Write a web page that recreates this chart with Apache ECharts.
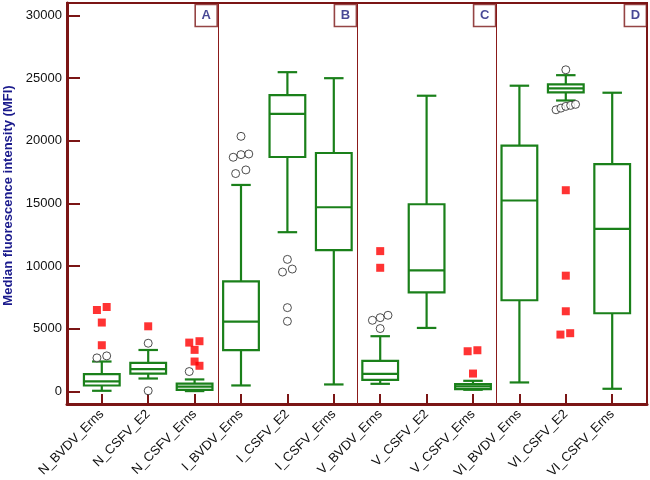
<!DOCTYPE html>
<html>
<head>
<meta charset="utf-8">
<script src="https://cdn.jsdelivr.net/npm/echarts@6/dist/echarts.min.js"></script>
<style>
html,body{margin:0;padding:0;background:#fff;}
#chart{width:650px;height:480px;}
</style>
</head>
<body>
<div id="chart"></div>
<script>
// ---- data ----
var categories = ['N_BVDV_Erns','N_CSFV_E2','N_CSFV_Erns','I_BVDV_Erns','I_CSFV_E2','I_CSFV_Erns','V_BVDV_Erns','V_CSFV_E2','V_CSFV_Erns','VI_BVDV_Erns','VI_CSFV_E2','VI_CSFV_Erns'];
var whiskerLow  = [55, 1035, 30, 480, 12710, 560, 610, 5070, 135, 720, 23220, 215];
var q1          = [478, 1420, 130, 3300, 18710, 11280, 930, 7910, 190, 7280, 23860, 6240];
var median      = [800, 1790, 380, 5570, 22150, 14700, 1410, 9660, 400, 15240, 24180, 12980];
var q3          = [1385, 2280, 620, 8790, 23650, 19030, 2440, 14940, 590, 19620, 24500, 18150];
var whiskerHigh = [2390, 3310, 960, 16480, 25480, 25000, 4410, 23600, 850, 24400, 25240, 23840];
// outliers: [categoryIndex, value, jitter]
var outlierCircles = [
  [0,2680,-1],[0,2840,1],
  [1,3850,0],[1,55,0],
  [2,1590,-1.1],
  [3,20360,0],[3,18690,-1.6],[3,18900,0],[3,18950,1.6],[3,17390,-1.1],[3,17680,1],
  [4,10540,0],[4,9530,-1],[4,9770,1],[4,6690,0],[4,5600,0],
  [6,5680,-1.6],[6,5890,0],[6,6080,1.6],[6,5020,0],
  [10,25670,0],[10,22480,-2],[10,22610,-1],[10,22750,0],[10,22830,1],[10,22910,2]
];
var outlierSquares = [
  [0,6500,-1],[0,6740,1],[0,5500,0],[0,3690,0],
  [1,5200,0],
  [2,3900,-1.1],[2,4010,1],[2,3320,0],[2,2390,0],[2,2050,1],
  [6,11200,0],[6,9870,0],
  [8,3210,-1.1],[8,3290,0.9],[8,1430,0],
  [10,16060,0],[10,9240,0],[10,6400,0],[10,4540,-1.1],[10,4650,0.9]
];
var yTicks = [0,5000,10000,15000,20000,25000,30000];
var panelLabels = ['A','B','C','D'];
var panelSeparators = [2.5, 5.5, 8.5];

// ---- build ----
var AXIS = '#7b1515';
var GREEN = '#1a801a';
var FONT = 'Liberation Sans, Arial, sans-serif';
var jitterStep = 0.105;
var xMin = -0.75, xMax = 11.75;
var idx = categories.map(function(_, i){ return i; });
var boxData = idx.map(function(i){ return [i, whiskerLow[i], q1[i], median[i], q3[i], whiskerHigh[i]]; });
function jit(a){ return a.map(function(d){ return [d[0] + d[2]*jitterStep, d[1]]; }); }
var panelEdges = panelSeparators.concat([xMax]);
var panelData = panelLabels.map(function(t, i){ return {value:[panelEdges[i] - 0.25, 30000], name:t}; });

var chart = echarts.init(document.getElementById('chart'), null, {renderer:'canvas'});
chart.setOption({
  animation: false,
  backgroundColor: '#fff',
  grid: {left: 67, right: 3, top: 3, bottom: 76, show: true, borderColor: AXIS, borderWidth: 2,
    backgroundColor: 'transparent', containLabel: false, outerBoundsMode: 'none'},
  xAxis: {
    type: 'value', min: xMin, max: xMax,
    axisLine: {show: true, onZero: false, lineStyle: {color: AXIS, width: 3}},
    axisTick: {show: true, inside: true, length: 10, lineStyle: {color: AXIS, width: 2}, customValues: idx},
    axisLabel: {customValues: idx, rotate: 45, margin: 8, color: '#111', fontSize: 13, fontFamily: FONT,
      formatter: function(v){ return categories[Math.round(v)]; }},
    splitLine: {show: false}
  },
  yAxis: {
    type: 'value', min: -1000, max: 31000,
    name: 'Median fluorescence intensity (MFI)', nameLocation: 'middle', nameGap: 52,
    nameTextStyle: {color: '#1a1a8c', fontWeight: 'bold', fontSize: 13, fontFamily: FONT, padding: [0, 0, 0, 16]},
    axisLine: {show: true, onZero: false, lineStyle: {color: AXIS, width: 3}},
    axisTick: {show: true, inside: true, length: 13, lineStyle: {color: AXIS, width: 2}, customValues: yTicks},
    axisLabel: {customValues: yTicks, margin: 5, color: '#111', fontSize: 13, fontFamily: FONT,
      formatter: function(v){ return String(v); }},
    splitLine: {show: false}
  },
  series: [
    {
      type: 'custom', name: 'box',
      data: boxData,
      encode: {x: 0, y: [1,2,3,4,5]},
      renderItem: function(params, api){
        var x = api.value(0);
        var cx = api.coord([x, 0])[0];
        var yLo = api.coord([x, api.value(1)])[1];
        var yQ1 = api.coord([x, api.value(2)])[1];
        var yMd = api.coord([x, api.value(3)])[1];
        var yQ3 = api.coord([x, api.value(4)])[1];
        var yHi = api.coord([x, api.value(5)])[1];
        var unit = api.size([1, 0])[0];
        var bw = unit * 0.77, cw = unit * 0.42;
        var st = {stroke: GREEN, lineWidth: 2.2, fill: null};
        return {type: 'group', children: [
          {type: 'line', shape: {x1: cx, y1: yLo, x2: cx, y2: yQ1}, style: st},
          {type: 'line', shape: {x1: cx, y1: yQ3, x2: cx, y2: yHi}, style: st},
          {type: 'line', shape: {x1: cx - cw/2, y1: yLo, x2: cx + cw/2, y2: yLo}, style: st},
          {type: 'line', shape: {x1: cx - cw/2, y1: yHi, x2: cx + cw/2, y2: yHi}, style: st},
          {type: 'rect', shape: {x: cx - bw/2, y: yQ3, width: bw, height: yQ1 - yQ3}, style: {stroke: GREEN, lineWidth: 2.2, fill: 'rgba(255,255,255,0)'}},
          {type: 'line', shape: {x1: cx - bw/2, y1: yMd, x2: cx + bw/2, y2: yMd}, style: st}
        ]};
      },
      markLine: {
        silent: true, symbol: ['none','none'], label: {show: false},
        lineStyle: {color: '#8b1a1a', width: 1, type: 'solid'},
        data: panelSeparators.map(function(s){ return {xAxis: s}; })
      },
      z: 3
    },
    {
      type: 'scatter', name: 'outliers', data: jit(outlierCircles),
      symbol: 'circle', symbolSize: 8,
      itemStyle: {color: '#fff', borderColor: '#222', borderWidth: 1}, z: 4
    },
    {
      type: 'scatter', name: 'extreme', data: jit(outlierSquares),
      symbol: 'rect', symbolSize: 8,
      itemStyle: {color: '#ff0000'}, z: 4
    },
    {
      type: 'scatter', name: 'panels', data: panelData,
      symbol: 'rect', symbolSize: [22, 22],
      itemStyle: {color: '#fff', borderColor: AXIS, borderWidth: 1.6},
      label: {show: true, position: 'inside', formatter: '{b}', color: '#1a1a7a', fontWeight: 'bold', fontSize: 13, fontFamily: FONT},
      silent: true, z: 5
    }
  ]
});
</script>
</body>
</html>
